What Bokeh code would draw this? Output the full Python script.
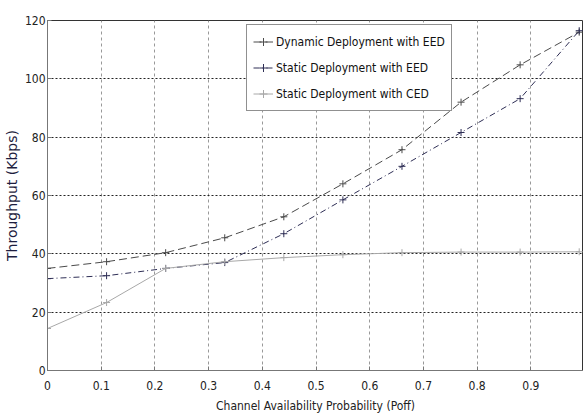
from bokeh.plotting import figure
from bokeh.models import Range1d, FixedTicker, Legend, LegendItem
from bokeh.embed import file_html
from bokeh.resources import INLINE

poff = [0, 0.11, 0.22, 0.33, 0.44, 0.55, 0.66, 0.77, 0.88, 0.99]
dynamic_eed = [35.0, 37.3, 40.4, 45.5, 52.7, 64.0, 75.7, 92.0, 104.8, 116.0]
static_eed = [31.5, 32.5, 35.0, 37.0, 46.9, 58.5, 70.0, 81.6, 93.2, 116.5]
static_ced = [14.4, 23.3, 35.0, 37.3, 38.7, 39.7, 40.4, 40.6, 40.6, 40.7]
series_names = ["Dynamic Deployment with EED", "Static Deployment with EED", "Static Deployment with CED"]
x_ticks = [0, 0.1, 0.2, 0.3, 0.4, 0.5, 0.6, 0.7, 0.8, 0.9, 1.0]
y_ticks = [0, 20, 40, 60, 80, 100, 120]

NARROW = "DejaVu Sans Condensed"

p = figure(width=583, height=420, output_backend="svg", toolbar_location=None,
           x_range=Range1d(0, 0.998), y_range=Range1d(0, 120),
           min_border_left=44, min_border_top=20, min_border_right=0, min_border_bottom=50)
p.background_fill_color = "white"
p.border_fill_color = "white"
p.outline_line_color = "#333333"
p.outline_line_width = 1

p.xaxis.ticker = FixedTicker(ticks=x_ticks)
p.yaxis.ticker = FixedTicker(ticks=y_ticks)
p.xaxis.major_label_overrides = {0: "0", 1.0: "1"}
for ax in (p.xaxis, p.yaxis):
    ax.major_tick_in = 4
    ax.major_tick_out = 0
    ax.minor_tick_in = 0
    ax.minor_tick_out = 0
    ax.axis_line_color = "#777777"
    ax.major_tick_line_color = "#777777"
    ax.major_label_text_font = NARROW
    ax.major_label_text_font_size = "12px"
    ax.major_label_text_color = "#222222"
p.xaxis.major_label_standoff = 10
p.yaxis.major_label_standoff = 2

p.xaxis.axis_label = "Channel Availability Probability (Poff)"
p.xaxis.axis_label_text_font = NARROW
p.xaxis.axis_label_text_font_size = "12px"
p.xaxis.axis_label_text_font_style = "normal"
p.xaxis.axis_label_text_color = "#222222"
p.xaxis.axis_label_standoff = 6

p.yaxis.axis_label = "Throughput (Kbps)"
p.yaxis.axis_label_text_font = "DejaVu Sans"
p.yaxis.axis_label_text_font_size = "14px"
p.yaxis.axis_label_text_font_style = "normal"
p.yaxis.axis_label_text_color = "#1e1e40"
p.yaxis.axis_label_standoff = 2

p.xgrid.grid_line_color = "#999999"
p.xgrid.grid_line_dash = "3 3"
p.xgrid.grid_line_width = 1
p.ygrid.grid_line_color = "#222222"
p.ygrid.grid_line_dash = "2 2"
p.ygrid.grid_line_width = 1

colors = ["#4a4a4a", "#2e2e55", "#a8a8a8"]
dashes = ["8 4", "6 3 1 3", "solid"]
data = [dynamic_eed, static_eed, static_ced]
items = []
for name, ys, c, d in zip(series_names, data, colors, dashes):
    r1 = p.line(poff, ys, line_color=c, line_dash=d, line_width=1)
    r2 = p.scatter(poff, ys, marker="cross", size=7, line_color=c, line_width=1)
    items.append(LegendItem(label=name, renderers=[r1, r2]))

legend = Legend(items=items, location=(199, 259))
legend.label_text_font = NARROW
legend.label_text_font_size = "12px"
legend.label_text_color = "#111111"
legend.border_line_color = "#222222"
legend.border_line_width = 1
legend.background_fill_alpha = 1
legend.glyph_width = 20
legend.glyph_height = 21
legend.spacing = 5
legend.padding = 6
legend.margin = 0
legend.label_standoff = 3
p.add_layout(legend, "center")

open("out.html", "w").write(file_html(p, INLINE))
